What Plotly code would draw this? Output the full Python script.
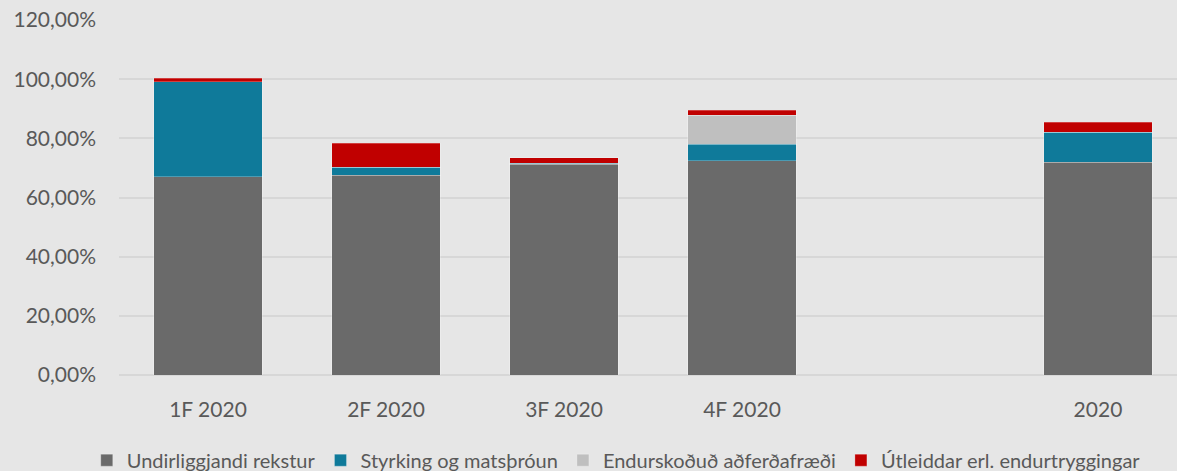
import plotly.graph_objects as go

categories = ["1F 2020", "2F 2020", "3F 2020", "4F 2020", " ", "2020"]
series_names = ["Undirliggjandi rekstur", "Styrking og matsþróun",
                "Endurskoðuð aðferðafræði", "Útleiddar erl. endurtryggingar"]
undirliggjandi = [67.1, 67.5, 71.2, 72.5, None, 71.9]
styrking = [32.1, 2.8, 0.3, 5.5, None, 10.1]
endurskodud = [0.0, 0.0, 0.0, 9.8, None, 0.0]
utleiddar = [1.1, 8.0, 2.0, 1.7, None, 3.5]
colors = ["#6a6a6a", "#0f7a9a", "#bfbfbf", "#c00000"]
y_ticks = [0, 20, 40, 60, 80, 100, 120]

series = [undirliggjandi, styrking, endurskodud, utleiddar]

fig = go.Figure()
for name, vals, col in zip(series_names, series, colors):
    fig.add_trace(go.Bar(
        x=categories,
        y=[None if v is None else v / 100 for v in vals],
        name=name,
        marker=dict(color=col, line=dict(color="rgba(255,255,255,0.25)", width=1)),
    ))

font_family = "Lato, 'Open Sans', sans-serif"
fig.update_layout(
    barmode="stack",
    bargap=0.39,
    width=1177, height=471,
    paper_bgcolor="#e6e6e6",
    plot_bgcolor="#e6e6e6",
    separators=", ",
    margin=dict(l=119, r=0, t=20, b=96, autoexpand=False),
    font=dict(family=font_family, size=21, color="#595959"),
    xaxis=dict(
        type="category",
        categoryorder="array",
        categoryarray=categories,
        range=[-0.5, 5.444],
        showgrid=False,
        showline=False,
        ticks="",
        automargin=False,
        ticklabelstandoff=20,
        tickfont=dict(size=21, color="#595959"),
    ),
    yaxis=dict(
        range=[0, 1.2],
        tickvals=[t / 100 for t in y_ticks],
        tickformat=".2%",
        showgrid=True,
        gridcolor="#d7d7d7",
        gridwidth=2,
        zeroline=True,
        zerolinecolor="#d7d7d7",
        zerolinewidth=2,
        showline=False,
        ticks="",
        automargin=False,
        ticklabelstandoff=22,
        tickfont=dict(size=21, color="#595959"),
    ),
    legend=dict(
        orientation="h",
        x=0.47, xanchor="center",
        y=-0.185, yanchor="top",
        font=dict(size=20, color="#595959"),
        traceorder="normal",
        itemwidth=30,
        bgcolor="rgba(0,0,0,0)",
    ),
)

fig.write_html("out.html", config={"displayModeBar": False},
               post_script="document.body.style.margin='0';")
